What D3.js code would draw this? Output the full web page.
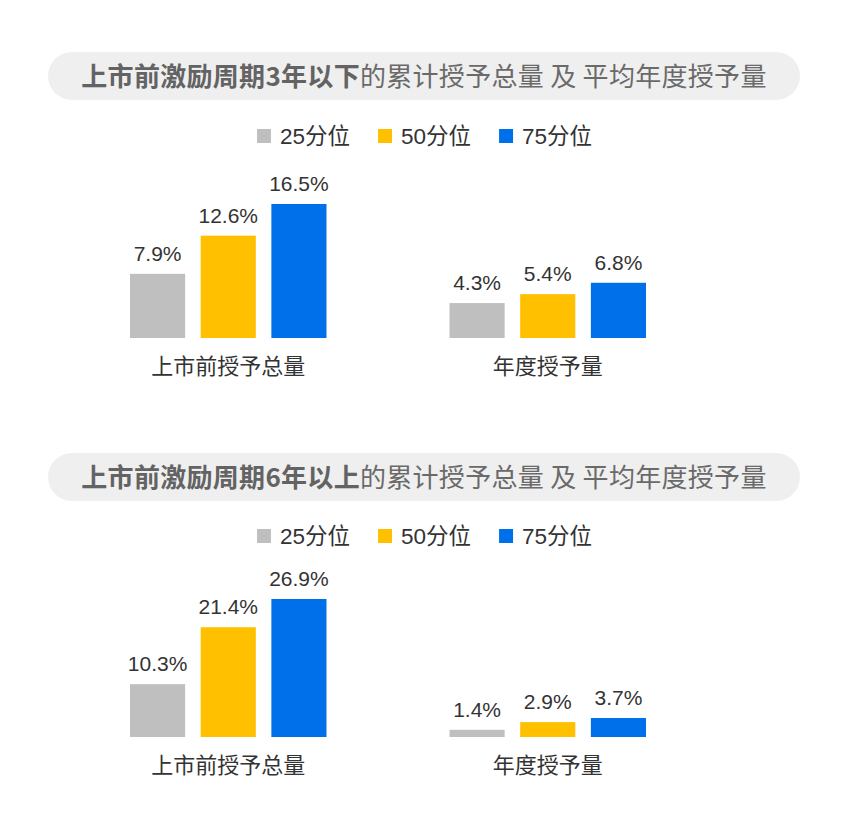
<!DOCTYPE html>
<html><head><meta charset="utf-8">
<script src="https://cdn.jsdelivr.net/npm/d3@7"></script>
<style>
html,body{margin:0;padding:0;background:#fff;}
svg{display:block;}
</style></head>
<body><svg id="c" width="850" height="827"></svg>
<script>
const categories = ["上市前授予总量", "年度授予量"];
const seriesNames = ["25分位", "50分位", "75分位"];
const colors = ["#bfbfbf", "#ffc000", "#0070ea"];
const titleBold = ["上市前激励周期3年以下", "上市前激励周期6年以上"];
const titleRest = "的累计授予总量 及 平均年度授予量";
// values per category: [25分位, 50分位, 75分位]
const panel1Values = [[7.9, 12.6, 16.5], [4.3, 5.4, 6.8]];
const panel2Values = [[10.3, 21.4, 26.9], [1.4, 2.9, 3.7]];
const panels = [panel1Values, panel2Values];

const svg = d3.select("#c");
const latin = "'Liberation Sans', Arial, 'Noto Sans CJK SC', sans-serif";
const cjk = "'Noto Sans CJK SC', 'Liberation Sans', sans-serif";

const layout = [
  {top: 52, legendY: 136, base: 338, h: 134},
  {top: 453, legendY: 536, base: 737, h: 138}
];

const x0 = d3.scaleBand().domain(categories).range([130, 646]).paddingInner(0.385).paddingOuter(0);
const x1 = d3.scaleBand().domain(seriesNames).range([0, x0.bandwidth()]).paddingInner(0.22).paddingOuter(0);
const color = d3.scaleOrdinal().domain(seriesNames).range(colors);

panels.forEach((vals, pi) => {
  const L = layout[pi];
  const g = svg.append("g");
  // title pill
  g.append("rect").attr("x", 48).attr("y", L.top).attr("width", 752).attr("height", 48)
    .attr("rx", 24).attr("fill", "#efefef");
  const t = g.append("text").attr("x", 424).attr("y", L.top + 34)
    .attr("text-anchor", "middle").attr("font-family", cjk).attr("font-size", 26)
    .attr("letter-spacing", 0.3).attr("fill", "#6a6a6a");
  t.append("tspan").attr("font-weight", "bold").attr("fill", "#636363").text(titleBold[pi]);
  t.append("tspan").text(titleRest);

  // legend
  const lg = g.append("g");
  let lx = 0;
  seriesNames.forEach((s, i) => {
    const it = lg.append("g").attr("transform", `translate(${lx},0)`);
    it.append("rect").attr("x", 0).attr("y", L.legendY - 7).attr("width", 14).attr("height", 14).attr("fill", color(s));
    const tx = it.append("text").attr("x", 23).attr("y", L.legendY + 8)
      .attr("font-family", latin).attr("font-size", 22.5).attr("fill", "#333").text(s);
    lx += 23 + tx.node().getComputedTextLength() + 28;
  });
  lg.attr("transform", `translate(257,0)`);

  // bars
  const y = d3.scaleLinear().domain([0, d3.max(vals.flat())]).range([L.base, L.base - L.h]);
  categories.forEach((c, ci) => {
    const cg = g.append("g").attr("transform", `translate(${x0(c)},0)`);
    seriesNames.forEach((s, si) => {
      const v = vals[ci][si];
      cg.append("rect").attr("x", x1(s)).attr("y", y(v)).attr("width", x1.bandwidth())
        .attr("height", y(0) - y(v)).attr("fill", color(s));
      cg.append("text").attr("x", x1(s) + x1.bandwidth() / 2).attr("y", y(v) - 13)
        .attr("text-anchor", "middle").attr("font-family", latin).attr("font-size", 21)
        .attr("fill", "#333").text(v.toFixed(1) + "%");
    });
    g.append("text").attr("x", x0(c) + x0.bandwidth() / 2).attr("y", L.base + 36)
      .attr("text-anchor", "middle").attr("font-family", cjk).attr("font-size", 22)
      .attr("fill", "#333").text(c);
  });
});
</script></body></html>
